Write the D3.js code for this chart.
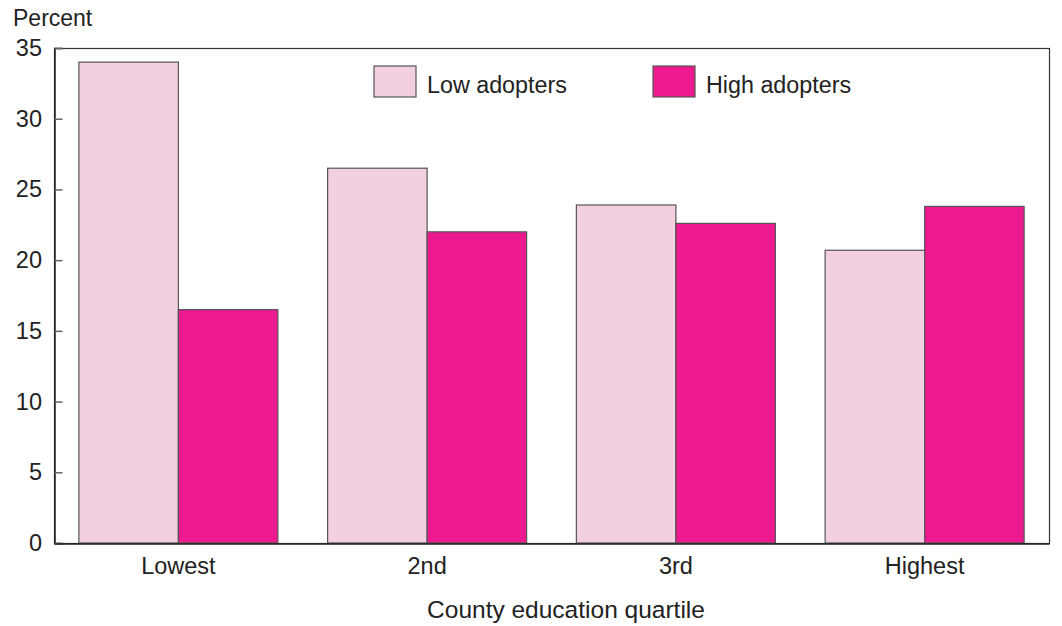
<!DOCTYPE html>
<html>
<head>
<meta charset="utf-8">
<script src="https://cdn.jsdelivr.net/npm/d3@7"></script>
<style>
  body { margin: 0; background: #fff; }
  svg { display: block; font-family: "Liberation Sans", Arial, Helvetica, sans-serif; }
</style>
</head>
<body>
<svg id="chart" width="1062" height="626"></svg>
<script>
const categories = ["Lowest", "2nd", "3rd", "Highest"];
const seriesNames = ["Low adopters", "High adopters"];
const lowAdopters = [34.0, 26.5, 23.9, 20.7];
const highAdopters = [16.5, 22.0, 22.6, 23.8];
const yTicks = [0, 5, 10, 15, 20, 25, 30, 35];
const colors = ["#f2cfe1", "#ec198f"];

const W = 1062, H = 626;
const m = { left: 54, right: 13, top: 48, bottom: 83 };
const svg = d3.select("#chart");

const x0 = d3.scaleBand().domain(categories)
  .range([m.left, W - m.right]).paddingInner(0.2).paddingOuter(0.1);
const x1 = d3.scaleBand().domain(seriesNames).range([0, x0.bandwidth()]);
const y = d3.scaleLinear().domain([0, 35]).range([H - m.bottom, m.top]);

const data = categories.map((c, i) => ({ cat: c, vals: [lowAdopters[i], highAdopters[i]] }));

// frame
svg.append("rect")
  .attr("x", m.left + 0.5).attr("y", m.top + 0.5)
  .attr("width", W - m.right - m.left).attr("height", H - m.bottom - m.top)
  .attr("fill", "none").attr("stroke", "#333").attr("stroke-width", 1.2);

// bars
const g = svg.append("g");
data.forEach(d => {
  d.vals.forEach((v, j) => {
    g.append("rect")
      .attr("x", x0(d.cat) + x1(seriesNames[j]))
      .attr("y", y(v))
      .attr("width", x1.bandwidth())
      .attr("height", y(0) - y(v))
      .attr("fill", colors[j])
      .attr("stroke", "#555")
      .attr("stroke-width", 1.2);
  });
});

// y axis
const yAxis = d3.axisRight(y).tickValues(yTicks).tickSize(8).tickFormat("");
const ya = svg.append("g").attr("transform", `translate(${m.left + 0.5},0)`).call(yAxis);
ya.select(".domain").attr("stroke", "#222").attr("stroke-width", 1.5);
ya.selectAll(".tick line").attr("stroke", "#666").attr("stroke-width", 1.5);
const yl = d3.axisLeft(y).tickValues(yTicks).tickSize(0).tickPadding(12);
const ylg = svg.append("g").attr("transform", `translate(${m.left},0)`).call(yl);
ylg.select(".domain").remove();
ylg.selectAll("text").attr("font-size", 23.5).attr("fill", "#222")
  .attr("font-family", "'Liberation Sans', Arial, sans-serif");

// x axis
const xAxis = d3.axisBottom(x0).tickSize(0).tickPadding(14);
const xa = svg.append("g").attr("transform", `translate(0,${H - m.bottom + 0.5})`).call(xAxis);
xa.select(".domain").attr("stroke", "#222").attr("stroke-width", 1.5);
xa.selectAll("text").attr("font-size", 23.5).attr("fill", "#222")
  .attr("font-family", "'Liberation Sans', Arial, sans-serif");

// axis titles
svg.append("text").attr("x", 13).attr("y", 26).attr("font-size", 23).attr("fill", "#222")
  .text("Percent");
svg.append("text").attr("x", 566).attr("y", 618).attr("text-anchor", "middle")
  .attr("font-size", 24.5).attr("fill", "#222").text("County education quartile");

// legend
const legX = [374, 653];
seriesNames.forEach((s, j) => {
  svg.append("rect").attr("x", legX[j]).attr("y", 66).attr("width", 42).attr("height", 31)
    .attr("fill", colors[j]).attr("stroke", "#555").attr("stroke-width", 1.2);
  svg.append("text").attr("x", legX[j] + 53).attr("y", 93).attr("font-size", 23.3)
    .attr("fill", "#222").text(s);
});
</script>
</body>
</html>
